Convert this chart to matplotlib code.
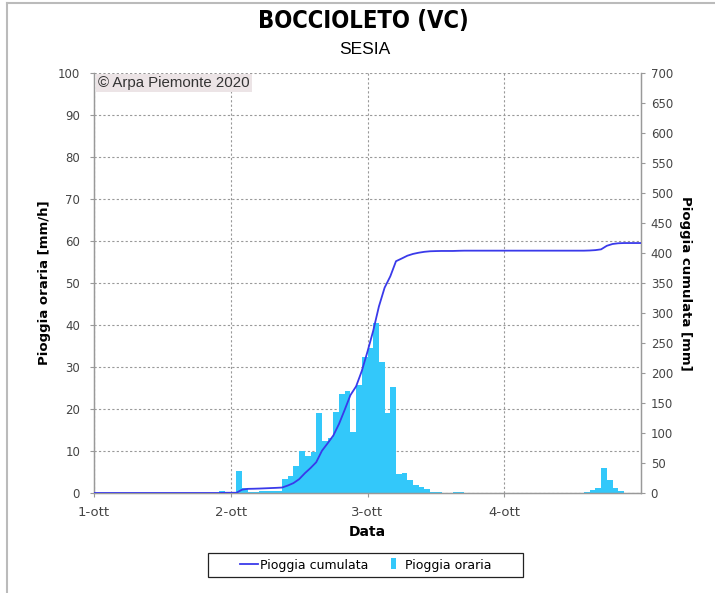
import numpy as np
import matplotlib.pyplot as plt
from matplotlib.patches import Patch, Rectangle
from matplotlib.lines import Line2D
from matplotlib.legend_handler import HandlerPatch

# hourly rain, hours counted from 1-ott 00:00 (only non-zero hours listed)
ore = [22, 25, 26, 27, 28, 29, 30, 31, 32,
       33, 34, 35, 36, 37, 38,
       39, 40, 41, 42, 43, 44, 45, 46, 47, 48, 49, 50, 51, 52,
       53, 54, 55, 56, 57, 58, 59, 60, 63, 64,
       86, 87, 88, 89, 90, 91, 92]
pioggia = [0.4, 5.2, 1.3, 0.2, 0.3, 0.4, 0.4, 0.4, 0.5,
           3.3, 4.1, 6.5, 9.9, 8.7, 9.7,
           19.0, 12.5, 13.0, 19.3, 23.6, 24.4, 14.6, 25.7, 32.3, 34.6, 40.5, 31.3, 19.0, 25.2,
           4.5, 4.7, 3.0, 2.0, 1.5, 0.9, 0.3, 0.2, 0.3, 0.2,
           0.3, 0.6, 1.3, 5.9, 3.0, 1.2, 0.4]
giorni = ['1-ott', '2-ott', '3-ott', '4-ott']

oraria = np.zeros(96)
oraria[ore] = pioggia
cumulata = np.concatenate([[0], np.cumsum(oraria)])
t = np.arange(97)

col_bar = '#33c8fa'
col_line = '#3a3aea'
grigio = '#444444'

fig = plt.figure(figsize=(7.15, 5.93), dpi=100)
ax = fig.add_axes([94/715, 1-493/593, (641-94)/715, (493-73)/593])

ax.bar(np.arange(96), oraria, width=1.0, align='edge', color=col_bar, linewidth=0, zorder=2)
ax.set_xlim(0, 96)
ax.set_ylim(0, 100)
ax.set_yticks(np.arange(0, 101, 10))
ax.set_xticks([0, 24, 48, 72])
ax.set_xticklabels(giorni)
ax.grid(True, color='#999999', linestyle=(0, (2, 2)), linewidth=0.8, zorder=0)
ax.set_axisbelow(True)

ax2 = ax.twinx()
ax2.plot(t, cumulata, color=col_line, linewidth=1.3, zorder=3)
ax2.set_ylim(0, 700)
ax2.set_yticks(np.arange(0, 701, 50))

for a in (ax, ax2):
    for s in a.spines.values():
        s.set_color('#999999')
        s.set_linewidth(0.9)
    a.spines['top'].set_visible(False)
    a.tick_params(labelsize=8.5, labelcolor=grigio, color='#999999', length=3, width=0.8, pad=4)
    for lab in a.get_xticklabels() + a.get_yticklabels():
        lab.set_family('DejaVu Sans')

ax.tick_params(axis='y', pad=7)
ax.tick_params(axis='x', labelsize=9.5, pad=6)
ax.set_ylabel('Pioggia oraria [mm/h]', fontsize=9.5, fontweight='bold', labelpad=5, family='DejaVu Sans')
ax2.set_ylabel('Pioggia cumulata [mm]', fontsize=9.5, fontweight='bold', rotation=-90,
               labelpad=14, family='DejaVu Sans')
ax.set_xlabel('Data', fontsize=10, fontweight='bold', labelpad=5, family='DejaVu Sans')

ax.text(0.007, 0.993, '\u00a9 Arpa Piemonte 2020', transform=ax.transAxes, ha='left', va='top',
        fontsize=10.8, color='#333333', family='Liberation Sans', zorder=5,
        bbox=dict(boxstyle='square,pad=0.15', facecolor='#ece4e6', edgecolor='none'))

fig.text(0.508, 0.964, 'BOCCIOLETO (VC)', ha='center', va='center', fontsize=17,
         fontweight='bold', family='DejaVu Sans', fontstretch='condensed')
fig.text(0.51, 0.917, 'SESIA', ha='center', va='center', fontsize=12.5, family='Liberation Sans')


def barretta(legend, orig_handle, xdescent, ydescent, width, height, fontsize):
    # narrow upright swatch near the right end of the handle box
    return Rectangle((width - xdescent - 9, -ydescent), 4, height + 1)


maniglie = [Line2D([0], [0], color=col_line, linewidth=1.3),
            Patch(facecolor=col_bar, edgecolor='none')]
leg = fig.legend(maniglie, ['Pioggia cumulata', 'Pioggia oraria'], loc='center',
                 bbox_to_anchor=(366/715, 1-565/593), ncol=2, frameon=False,
                 prop={'family': 'DejaVu Sans', 'size': 9}, handlelength=1.45,
                 columnspacing=1.33, handletextpad=0.15,
                 handler_map={Patch: HandlerPatch(patch_func=barretta)})

fig.add_artist(Rectangle((208/715, 1-577/593), (523-208)/715, 24/593, transform=fig.transFigure,
                         fill=False, edgecolor='#222222', linewidth=0.9))

# outer border of the panel
fig.add_artist(Line2D([7/715, 7/715], [0, 1-3/593], color='#bbbbbb', linewidth=1.5))
fig.add_artist(Line2D([7/715, 1], [1-3/593, 1-3/593], color='#bbbbbb', linewidth=1.5))

fig.savefig('out.png', dpi=100)
